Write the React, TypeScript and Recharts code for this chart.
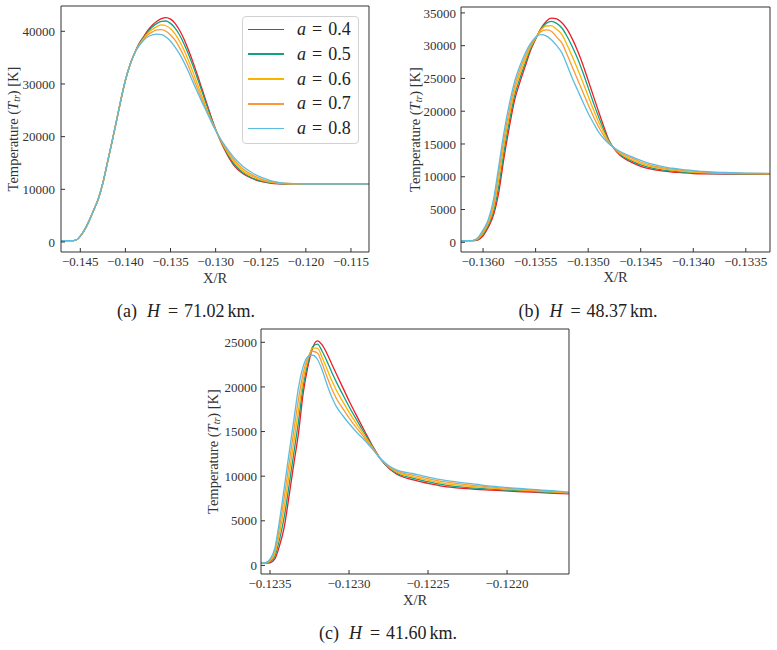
import { LineChart, Line, XAxis, YAxis, Label, Legend } from "recharts";

const FONT = '"Liberation Serif", "DejaVu Serif", serif';
const AXIS = "#333";
const THIN = 0.001; // axes with no room of their own (Recharts skips a 0-sized axis)

// a values and colours, drawn in this order (0.8 ends on top)
const aValues = ["0.4", "0.5", "0.6", "0.7", "0.8"];
const aColors = ["#ee1c25", "#12a086", "#fcb300", "#fb9a35", "#5bbde0"];
const seriesKeys = ["s04", "s05", "s06", "s07", "s08"];

// (a) H = 71.02 km
const xA = [-0.14714, -0.146, -0.1455, -0.145, -0.1445, -0.144, -0.1435, -0.143, -0.1425, -0.142, -0.1415, -0.141, -0.1405, -0.14, -0.1395, -0.139, -0.1385, -0.138, -0.1375, -0.137, -0.1365, -0.136, -0.1355, -0.135, -0.1345, -0.134, -0.1335, -0.133, -0.1325, -0.132, -0.1315, -0.131, -0.1305, -0.13, -0.1295, -0.129, -0.1285, -0.128, -0.127, -0.126, -0.125, -0.124, -0.123, -0.122, -0.121, -0.12, -0.117, -0.113];
const tA04 = [250, 250, 350, 1100, 2400, 4100, 6100, 8200, 11200, 15000, 18900, 22900, 27000, 30700, 33600, 35800, 37600, 38950, 40200, 41200, 41900, 42400, 42600, 42300, 41500, 40200, 38500, 36400, 34100, 31600, 29000, 26400, 23800, 21400, 19300, 17500, 15900, 14600, 13000, 12100, 11500, 11200, 11050, 11000, 11000, 11000, 11000, 11000];
const tA05 = [250, 250, 350, 1100, 2400, 4100, 6100, 8200, 11200, 15000, 18900, 22900, 27000, 30700, 33600, 35800, 37500, 38800, 39950, 40850, 41500, 41900, 41950, 41500, 40600, 39300, 37600, 35600, 33400, 31000, 28500, 26000, 23600, 21300, 19400, 17700, 16200, 14900, 13200, 12200, 11600, 11250, 11100, 11020, 11000, 11000, 11000, 11000];
const tA06 = [250, 250, 350, 1100, 2400, 4100, 6100, 8200, 11200, 15000, 18900, 22900, 27000, 30700, 33600, 35800, 37400, 38600, 39650, 40400, 40900, 41200, 41050, 40500, 39500, 38100, 36400, 34400, 32200, 29900, 27600, 25300, 23200, 21300, 19500, 17900, 16500, 15300, 13500, 12500, 11800, 11350, 11150, 11050, 11000, 11000, 11000, 11000];
const tA07 = [250, 250, 350, 1100, 2400, 4100, 6100, 8200, 11200, 15000, 18900, 22900, 27000, 30700, 33600, 35800, 37300, 38450, 39350, 39900, 40250, 40300, 40000, 39300, 38300, 36900, 35200, 33300, 31200, 29100, 27000, 25000, 23000, 21200, 19600, 18100, 16800, 15700, 13900, 12800, 12000, 11500, 11250, 11100, 11030, 11000, 11000, 11000];
const tA08 = [250, 250, 350, 1100, 2400, 4100, 6100, 8200, 11200, 15000, 18900, 22900, 27000, 30700, 33600, 35800, 37200, 38250, 38950, 39300, 39450, 39350, 38900, 38100, 37000, 35700, 34100, 32300, 30300, 28400, 26500, 24700, 22900, 21200, 19700, 18400, 17200, 16100, 14400, 13200, 12300, 11700, 11300, 11100, 11050, 11000, 11000, 11000];

// (b) H = 48.37 km
const xB = [-0.13621, -0.1361, -0.13605, -0.136, -0.13595, -0.1359, -0.13585, -0.1358, -0.13575, -0.1357, -0.13565, -0.1356, -0.13555, -0.1355, -0.13545, -0.1354, -0.13535, -0.1353, -0.13525, -0.1352, -0.13515, -0.1351, -0.13505, -0.135, -0.13495, -0.1349, -0.13485, -0.1348, -0.13475, -0.1347, -0.1346, -0.1345, -0.1344, -0.1343, -0.1342, -0.1341, -0.134, -0.1339, -0.1337, -0.1335, -0.13327];
const tB04 = [250, 250, 350, 1000, 2300, 4200, 7700, 13000, 17600, 21700, 24400, 26800, 29200, 31000, 32600, 33700, 34200, 34100, 33500, 32500, 31000, 29200, 27100, 24700, 22300, 19900, 17600, 15500, 14200, 13300, 12300, 11600, 11150, 10900, 10720, 10600, 10500, 10450, 10420, 10400, 10400];
const tB05 = [250, 255, 440, 1220, 2600, 4700, 8700, 14000, 18500, 22400, 25000, 27300, 29450, 31100, 32500, 33400, 33700, 33400, 32700, 31400, 29800, 28000, 25900, 23600, 21300, 19100, 17150, 15400, 14250, 13450, 12500, 11800, 11350, 11050, 10850, 10700, 10600, 10530, 10470, 10440, 10430];
const tB06 = [250, 260, 520, 1450, 2900, 5250, 9750, 14950, 19350, 23100, 25650, 27800, 29750, 31150, 32400, 33000, 33050, 32500, 31700, 30100, 28300, 26400, 24400, 22300, 20250, 18350, 16700, 15250, 14300, 13600, 12700, 12050, 11550, 11250, 11000, 10850, 10700, 10620, 10530, 10480, 10460];
const tB07 = [250, 265, 610, 1680, 3200, 5800, 10800, 15900, 20200, 23800, 26300, 28300, 30000, 31250, 32150, 32400, 32200, 31300, 30400, 28600, 26700, 24800, 22900, 21000, 19200, 17600, 16250, 15100, 14350, 13750, 12950, 12250, 11750, 11400, 11150, 10950, 10850, 10700, 10590, 10520, 10490];
const tB08 = [250, 270, 700, 1900, 3500, 6600, 11700, 16900, 21100, 24500, 26900, 28800, 30300, 31300, 31700, 31500, 30900, 30000, 28900, 27000, 25000, 23200, 21400, 19700, 18200, 16800, 15800, 15000, 14400, 13900, 13150, 12500, 11950, 11600, 11300, 11100, 10950, 10800, 10650, 10560, 10520];

// (c) H = 41.60 km
const xC = [-0.123557, -0.12353, -0.1235, -0.12347, -0.12344, -0.12341, -0.12338, -0.12335, -0.12332, -0.12329, -0.12326, -0.12323, -0.1232, -0.12317, -0.12314, -0.12311, -0.12308, -0.12304, -0.123, -0.12295, -0.1229, -0.12285, -0.1228, -0.12275, -0.1227, -0.1226, -0.1225, -0.1224, -0.1223, -0.1222, -0.1221, -0.1219, -0.1217, -0.121608];
const tC04 = [270, 270, 300, 700, 2200, 4300, 7700, 11300, 14800, 19300, 22300, 24400, 25170, 24700, 23750, 22600, 21450, 19950, 18450, 16700, 15000, 13350, 11900, 10900, 10250, 9600, 9200, 8850, 8650, 8520, 8430, 8250, 8080, 8020];
const tC05 = [270, 275, 400, 1000, 2900, 5400, 8900, 12500, 16100, 20100, 22700, 24500, 24800, 24000, 22890, 21680, 20540, 19160, 17810, 16250, 14750, 13260, 11910, 10980, 10360, 9780, 9380, 9030, 8810, 8660, 8540, 8340, 8150, 8070];
const tC06 = [270, 285, 500, 1300, 3600, 6500, 10100, 13750, 17350, 20800, 23100, 24350, 24350, 23300, 22030, 20750, 19630, 18380, 17180, 15800, 14500, 13180, 11930, 11050, 10480, 9950, 9550, 9200, 8980, 8810, 8650, 8430, 8220, 8120];
const tC07 = [270, 290, 600, 1600, 4300, 7600, 11300, 15000, 18600, 21600, 23300, 24000, 23800, 22600, 21160, 19830, 18710, 17590, 16540, 15350, 14250, 13090, 11940, 11130, 10590, 10130, 9730, 9380, 9140, 8950, 8770, 8510, 8280, 8160];
const tC08 = [270, 300, 700, 1900, 5000, 8700, 12500, 16200, 19900, 22300, 23400, 23550, 23100, 21900, 20300, 18900, 17800, 16800, 15900, 14900, 14000, 13000, 11950, 11200, 10700, 10300, 9900, 9550, 9300, 9100, 8880, 8600, 8350, 8210];

// major ticks
const xTicksA = [-0.145, -0.14, -0.135, -0.13, -0.125, -0.12, -0.115];
const yTicksA = [0, 10000, 20000, 30000, 40000];
const xTicksB = [-0.136, -0.1355, -0.135, -0.1345, -0.134, -0.1335];
const yTicksB = [0, 5000, 10000, 15000, 20000, 25000, 30000, 35000];
const xTicksC = [-0.1235, -0.123, -0.1225, -0.122];
const yTicksC = [0, 5000, 10000, 15000, 20000, 25000];

const minor = (start: number, count: number, step: number) =>
  Array.from({ length: count }, (_, i) => +(start + i * step).toFixed(7));

const buildRows = (xs: number[], cols: number[][]) =>
  xs.map((x, i) => {
    const row: Record<string, number> = { x };
    seriesKeys.forEach((k, j) => (row[k] = cols[j][i]));
    return row;
  });

const rowsA = buildRows(xA, [tA04, tA05, tA06, tA07, tA08]);
const rowsB = buildRows(xB, [tB04, tB05, tB06, tB07, tB08]);
const rowsC = buildRows(xC, [tC04, tC05, tC06, tC07, tC08]);

const tickStyle = { fill: "#333", fontSize: 13, fontFamily: FONT };

function LegendBox() {
  return (
    <div
      style={{
        position: "relative",
        width: 117,
        height: 128,
        boxSizing: "border-box",
        border: "1px solid #d2d2d2",
        borderRadius: 4,
        background: "rgba(255,255,255,0.85)",
        fontFamily: FONT,
        fontSize: 18,
        color: "#222",
      }}
    >
      {aValues.map((a, i) => (
        <div
          key={a}
          style={{ position: "absolute", left: 0, top: 0.5 + i * 24.75, height: 24, width: 117, display: "flex", alignItems: "center" }}
        >
          <span style={{ display: "inline-block", marginLeft: 5, width: 36, height: 1.6, background: aColors[i] }} />
          <span style={{ marginLeft: 13, whiteSpace: "nowrap" }}>
            <i>a</i>
            <span style={{ margin: "0 6px" }}>=</span>
            {a}
          </span>
        </div>
      ))}
    </div>
  );
}

type PanelProps = {
  left: number;
  top: number;
  width: number;
  height: number;
  margin: { top: number; right: number; bottom: number; left: number };
  rows: Record<string, number>[];
  xDomain: [number, number];
  yDomain: [number, number];
  xTicks: number[];
  xMinor: number[];
  yTicks: number[];
  yMinor: number[];
  digits: number;
  yGap: number;
  yTitleGap: number;
  xTitleGap: number;
  legend?: boolean;
};

function Panel(p: PanelProps) {
  const plotW = p.width - p.margin.left - p.margin.right;
  const plotH = p.height - p.margin.top - p.margin.bottom;
  const fmtX = (v: number) => "\u2212" + Math.abs(v).toFixed(p.digits);
  const common = { type: "number" as const, allowDataOverflow: true, interval: 0 as const };

  const yTitle = () => {
    const cx = p.margin.left - p.yTitleGap;
    const cy = p.margin.top + plotH / 2;
    return (
      <text
        x={cx}
        y={cy}
        transform={`rotate(-90 ${cx} ${cy})`}
        textAnchor="middle"
        dominantBaseline="central"
        fontFamily={FONT}
        fontSize={14.5}
        fill="#333"
      >
        Temperature (<tspan fontStyle="italic">T</tspan>
        <tspan fontStyle="italic" fontSize={10} dy={3}>tr</tspan>
        <tspan dy={-3}>) [K]</tspan>
      </text>
    );
  };

  const xTitle = () => (
    <text
      x={p.margin.left + plotW / 2}
      y={p.margin.top + plotH + p.xTitleGap}
      textAnchor="middle"
      dominantBaseline="central"
      fontFamily={FONT}
      fontSize={14.5}
      fill="#333"
    >
      X/R
    </text>
  );

  return (
    <div style={{ position: "absolute", left: p.left, top: p.top }}>
      <LineChart width={p.width} height={p.height} data={p.rows} margin={p.margin}>
        <XAxis xAxisId="xm" dataKey="x" {...common} domain={p.xDomain} ticks={p.xMinor} height={THIN} tickSize={-2} tick={false} axisLine={false} tickLine={{ stroke: AXIS }} />
        <XAxis xAxisId="xt" dataKey="x" orientation="top" {...common} domain={p.xDomain} ticks={p.xTicks} height={THIN} tickSize={-4} tick={false} axisLine={{ stroke: AXIS }} tickLine={{ stroke: AXIS }} />
        <XAxis xAxisId="xtm" dataKey="x" orientation="top" {...common} domain={p.xDomain} ticks={p.xMinor} height={THIN} tickSize={-2} tick={false} axisLine={false} tickLine={{ stroke: AXIS }} />
        <XAxis
          xAxisId="x"
          dataKey="x"
          {...common}
          domain={p.xDomain}
          ticks={p.xTicks}
          height={THIN}
          tickSize={-4}
          tickMargin={9}
          tickFormatter={fmtX}
          tick={tickStyle}
          axisLine={{ stroke: AXIS }}
          tickLine={{ stroke: AXIS }}
        >
          <Label content={xTitle} />
        </XAxis>
        <YAxis yAxisId="ym" {...common} domain={p.yDomain} ticks={p.yMinor} width={THIN} tickSize={-2} tick={false} axisLine={false} tickLine={{ stroke: AXIS }} />
        <YAxis yAxisId="yr" orientation="right" {...common} domain={p.yDomain} ticks={p.yTicks} width={THIN} tickSize={-4} tick={false} axisLine={{ stroke: AXIS }} tickLine={{ stroke: AXIS }} />
        <YAxis yAxisId="yrm" orientation="right" {...common} domain={p.yDomain} ticks={p.yMinor} width={THIN} tickSize={-2} tick={false} axisLine={false} tickLine={{ stroke: AXIS }} />
        <YAxis
          yAxisId="y"
          {...common}
          domain={p.yDomain}
          ticks={p.yTicks}
          width={THIN}
          tickSize={-4}
          tickMargin={p.yGap}
          tick={tickStyle}
          axisLine={{ stroke: AXIS }}
          tickLine={{ stroke: AXIS }}
        >
          <Label content={yTitle} />
        </YAxis>
        {seriesKeys.map((k, i) => (
          <Line
            key={k}
            xAxisId="x"
            yAxisId="y"
            type="monotone"
            dataKey={k}
            name={`a = ${aValues[i]}`}
            stroke={aColors[i]}
            strokeWidth={1.3}
            dot={false}
            activeDot={false}
            isAnimationActive={false}
          />
        ))}
        {p.legend && (
          <Legend
            layout="vertical"
            align="center"
            verticalAlign="middle"
            wrapperStyle={{ left: 242, top: 16, width: 117, height: 128 }}
            content={() => <LegendBox />}
          />
        )}
      </LineChart>
    </div>
  );
}

function Caption({ center, top, tag, h }: { center: number; top: number; tag: string; h: string }) {
  return (
    <div
      style={{
        position: "absolute",
        left: center - 110,
        top,
        width: 220,
        textAlign: "center",
        whiteSpace: "nowrap",
        fontFamily: FONT,
        fontSize: 18,
        lineHeight: "22px",
        color: "#222",
      }}
    >
      <span>({tag})</span>
      <i style={{ marginLeft: 10 }}>H</i>
      <span style={{ margin: "0 6px 0 8px" }}>=</span>
      <span>{h}</span>
      <span style={{ marginLeft: 3 }}>km.</span>
    </div>
  );
}

export default function App() {
  return (
    <div style={{ position: "absolute", left: 0, top: 0, width: 777, height: 650, background: "#fff" }}>
      <Panel
        left={0}
        top={0}
        width={380}
        height={300}
        margin={{ top: 6, right: 11, bottom: 48, left: 61 }}
        rows={rowsA}
        xDomain={[-0.14714, -0.113]}
        yDomain={[-1900, 44800]}
        xTicks={xTicksA}
        xMinor={minor(-0.147, 35, 0.001)}
        yTicks={yTicksA}
        yMinor={minor(0, 23, 2000)}
        digits={3}
        yGap={10}
        yTitleGap={48}
        xTitleGap={26}
        legend
      />
      <Panel
        left={390}
        top={0}
        width={387}
        height={300}
        margin={{ top: 7, right: 7, bottom: 48, left: 71 }}
        rows={rowsB}
        xDomain={[-0.13621, -0.13327]}
        yDomain={[-1480, 35900]}
        xTicks={xTicksB}
        xMinor={minor(-0.1362, 30, 0.0001)}
        yTicks={yTicksB}
        yMinor={minor(0, 36, 1000)}
        digits={4}
        yGap={9}
        yTitleGap={46}
        xTitleGap={25}
      />
      <Panel
        left={190}
        top={300}
        width={390}
        height={320}
        margin={{ top: 29, right: 11, bottom: 46, left: 71 }}
        rows={rowsC}
        xDomain={[-0.123557, -0.121608]}
        yDomain={[-960, 26490]}
        xTicks={xTicksC}
        xMinor={minor(-0.1235, 19, 0.0001)}
        yTicks={yTicksC}
        yMinor={minor(0, 27, 1000)}
        digits={4}
        yGap={8}
        yTitleGap={48}
        xTitleGap={26}
      />
      <Caption center={186} top={300} tag="a" h="71.02" />
      <Caption center={588} top={300} tag="b" h="48.37" />
      <Caption center={388} top={622} tag="c" h="41.60" />
    </div>
  );
}
